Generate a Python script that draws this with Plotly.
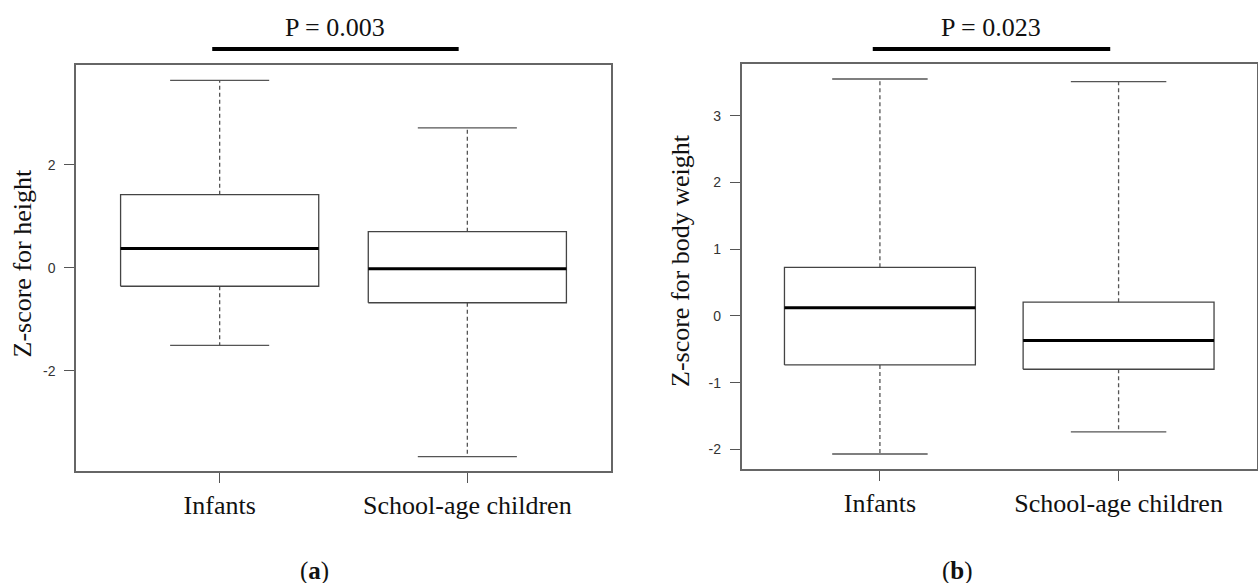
import plotly.graph_objects as go

W, H = 1258, 583

groups = ["Infants", "School-age children"]
positions = [1, 2]

height_upper = [3.64, 2.72]
height_q3 = [1.42, 0.70]
height_median = [0.375, -0.02]
height_q1 = [-0.36, -0.68]
height_lower = [-1.51, -3.67]

weight_upper = [3.55, 3.51]
weight_q3 = [0.727, 0.206]
weight_median = [0.12, -0.37]
weight_q1 = [-0.735, -0.80]
weight_lower = [-2.07, -1.74]

height_ticks = [-2, 0, 2]
height_ticklabels = ["-2", "0", "2"]
weight_ticks = [-2, -1, 0, 1, 2, 3]
weight_ticklabels = ["-2", "-1", "0", "1", "2", "3"]

p_texts = ["P = 0.003", "P = 0.023"]
p_bar_x = [0.97, 1.965]

panel_labels = ["(<b>a</b>)", "(<b>b</b>)"]
y_titles = ["Z-score for height", "Z-score for body weight"]

SERIF = "Liberation Serif"
SANS = "Liberation Sans"
BOX_W = 0.8
CAP_W = 0.4

fig = go.Figure()


def add_panel(xa, ya, upper, q3, med, q1, lower):
    for c, up, b3, m, b1, lo in zip(positions, upper, q3, med, q1, lower):
        fig.add_trace(go.Scatter(x=[c, c, None, c, c], y=[b3, up, None, b1, lo], mode="lines",
                                 line=dict(color="#555555", width=1.3, dash="4px,3px"),
                                 xaxis=xa, yaxis=ya, showlegend=False, hoverinfo="skip"))
        fig.add_trace(go.Scatter(x=[c - CAP_W / 2, c + CAP_W / 2, None, c - CAP_W / 2, c + CAP_W / 2],
                                 y=[up, up, None, lo, lo], mode="lines",
                                 line=dict(color="#555555", width=1.3),
                                 xaxis=xa, yaxis=ya, showlegend=False, hoverinfo="skip"))
        fig.add_trace(go.Scatter(x=[c - BOX_W / 2, c + BOX_W / 2, c + BOX_W / 2, c - BOX_W / 2, c - BOX_W / 2],
                                 y=[b1, b1, b3, b3, b1], mode="lines",
                                 line=dict(color="#444444", width=1.3),
                                 xaxis=xa, yaxis=ya, showlegend=False, hoverinfo="skip"))
        fig.add_trace(go.Scatter(x=[c - BOX_W / 2, c + BOX_W / 2], y=[m, m], mode="lines",
                                 line=dict(color="#000000", width=3),
                                 xaxis=xa, yaxis=ya, showlegend=False, hoverinfo="skip"))


add_panel("x", "y", height_upper, height_q3, height_median, height_q1, height_lower)
add_panel("x2", "y2", weight_upper, weight_q3, weight_median, weight_q1, weight_lower)

xcommon = dict(range=[0.42, 2.58], tickvals=positions, ticktext=groups, ticks="outside",
               ticklen=10, tickcolor="#555555", tickwidth=1.3,
               tickfont=dict(family=SERIF, size=26, color="#111111"),
               showline=True, linecolor="#666666", linewidth=1.5, mirror=True,
               showgrid=False, zeroline=False, ticklabelstandoff=0)
ycommon = dict(ticks="outside", ticklen=10, tickcolor="#555555", tickwidth=1.3,
               tickfont=dict(family=SANS, size=14, color="#333333"),
               showline=True, linecolor="#666666", linewidth=1.5, mirror=True,
               showgrid=False, zeroline=False, ticklabelstandoff=6)

fig.update_layout(
    width=W, height=H, margin=dict(l=0, r=0, t=0, b=0),
    paper_bgcolor="white", plot_bgcolor="white",
    xaxis=dict(domain=[76 / W, 611 / W], anchor="y", **xcommon),
    yaxis=dict(domain=[(H - 471) / H, (H - 65) / H], anchor="x", range=[-3.95, 3.94],
               tickvals=height_ticks, ticktext=height_ticklabels, **ycommon),
    xaxis2=dict(domain=[741.5 / W, 1257 / W], anchor="y2", **xcommon),
    yaxis2=dict(domain=[(H - 469) / H, (H - 64) / H], anchor="x2", range=[-2.295, 3.775],
                tickvals=weight_ticks, ticktext=weight_ticklabels, **ycommon),
)

bar_y = (H - 49) / H
text_y = (H - 27) / H
for xr, pt in zip(["x", "x2"], p_texts):
    fig.add_shape(type="line", xref=xr, yref="paper", x0=p_bar_x[0], x1=p_bar_x[1],
                  y0=bar_y, y1=bar_y, line=dict(color="black", width=4))
    fig.add_annotation(xref=xr, yref="paper", x=(p_bar_x[0] + p_bar_x[1]) / 2, y=text_y,
                       text=pt, showarrow=False, font=dict(family=SERIF, size=26, color="#111111"),
                       xanchor="center", yanchor="middle")

for xpx, ypx, t in [(22, 263.5, y_titles[0]), (680, 261, y_titles[1])]:
    fig.add_annotation(xref="paper", yref="paper", x=xpx / W, y=(H - ypx) / H, text=t,
                       textangle=-90, showarrow=False,
                       font=dict(family=SERIF, size=26, color="#111111"),
                       xanchor="center", yanchor="middle")

for xpx, t in [(315, panel_labels[0]), (957, panel_labels[1])]:
    fig.add_annotation(xref="paper", yref="paper", x=xpx / W, y=(H - 571) / H, text=t,
                       showarrow=False, font=dict(family=SERIF, size=25, color="#111111"),
                       xanchor="center", yanchor="middle")

fig.write_html("out.html", config={"displayModeBar": False},
               post_script="document.body.style.margin='0px';document.body.style.overflow='hidden';")
